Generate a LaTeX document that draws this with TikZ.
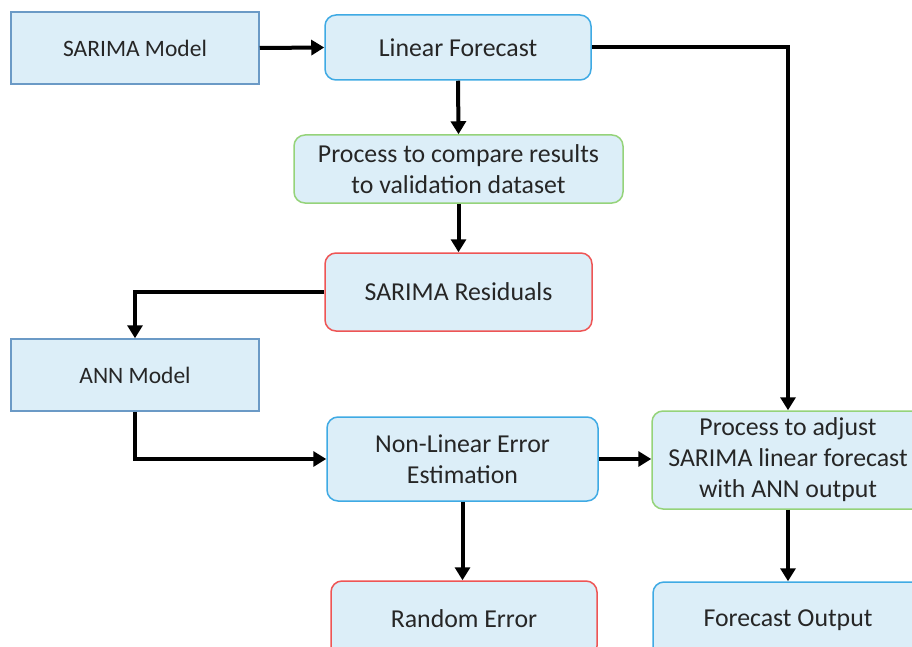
\documentclass[tikz,border=0pt]{standalone}
\usepackage{fontspec}
\setmainfont{Carlito}
\usetikzlibrary{arrows.meta}
\definecolor{boxfill}{HTML}{DCEEF8}
\definecolor{sqborder}{HTML}{6B9AC6}
\definecolor{bluebd}{HTML}{3FAAE4}
\definecolor{greenbd}{HTML}{95D37A}
\definecolor{redbd}{HTML}{EE5555}
\definecolor{txt}{HTML}{262626}
\tikzset{
  base/.style={draw, fill=boxfill, line width=1.5pt, align=center, text=txt,
    font=\fontsize{25.8}{31}\selectfont, inner sep=0pt},
  sqbox/.style={base, draw=sqborder, rectangle, font=\fontsize{23.5}{29}\selectfont},
  bluebox/.style={base, draw=bluebd, rounded corners=11pt},
  greenbox/.style={base, draw=greenbd, rounded corners=11pt},
  redbox/.style={base, draw=redbd, rounded corners=11pt},
  conn/.style={line width=4pt, -{Triangle[length=13pt,width=15pt]}}
}
\begin{document}
\begin{tikzpicture}[x=1pt,y=-1pt]
\useasboundingbox (0,0) rectangle (912,647);
\clip (0,0) rectangle (912,647);
\node[sqbox, minimum width=248pt, minimum height=72pt] (sm) at (135,48) {SARIMA Model};
\node[bluebox, minimum width=266pt, minimum height=65pt] (lf) at (458,47.5) {Linear Forecast};
\node[greenbox, minimum width=329pt, minimum height=68pt] (pc) at (458.5,169) {Process to compare results\\to validation dataset};
\node[redbox, minimum width=267pt, minimum height=78pt] (sr) at (458.5,292) {SARIMA Residuals};
\node[sqbox, minimum width=248pt, minimum height=72pt] (ann) at (135,375) {ANN Model};
\node[bluebox, minimum width=271pt, minimum height=84pt] (nl) at (462.5,459) {Non-Linear Error\\Estimation};
\node[greenbox, minimum width=272pt, minimum height=98pt] (adj) at (788,460) {Process to adjust\\SARIMA linear forecast\\with ANN output};
\node[redbox, minimum width=266pt, minimum height=76pt] (re) at (464,619) {Random Error};
\node[bluebox, minimum width=270pt, minimum height=76pt] (fo) at (788,620) {Forecast Output};

\draw[conn] (sm.east) -- (lf.west);
\draw[conn] (lf.south) -- (pc.north);
\draw[conn] (pc.south) -- (sr.north);
\draw[conn] (sr.west) -| (ann.north);
\draw[conn] (ann.south) |- (nl.west);
\draw[conn] (nl.east) -- (nl.east -| adj.west);
\draw[conn] (lf.east) -| (adj.north);
\draw[conn] (nl.south) -- (nl.south |- re.north);
\draw[conn] (adj.south) -- (fo.north);
\end{tikzpicture}
\end{document}
